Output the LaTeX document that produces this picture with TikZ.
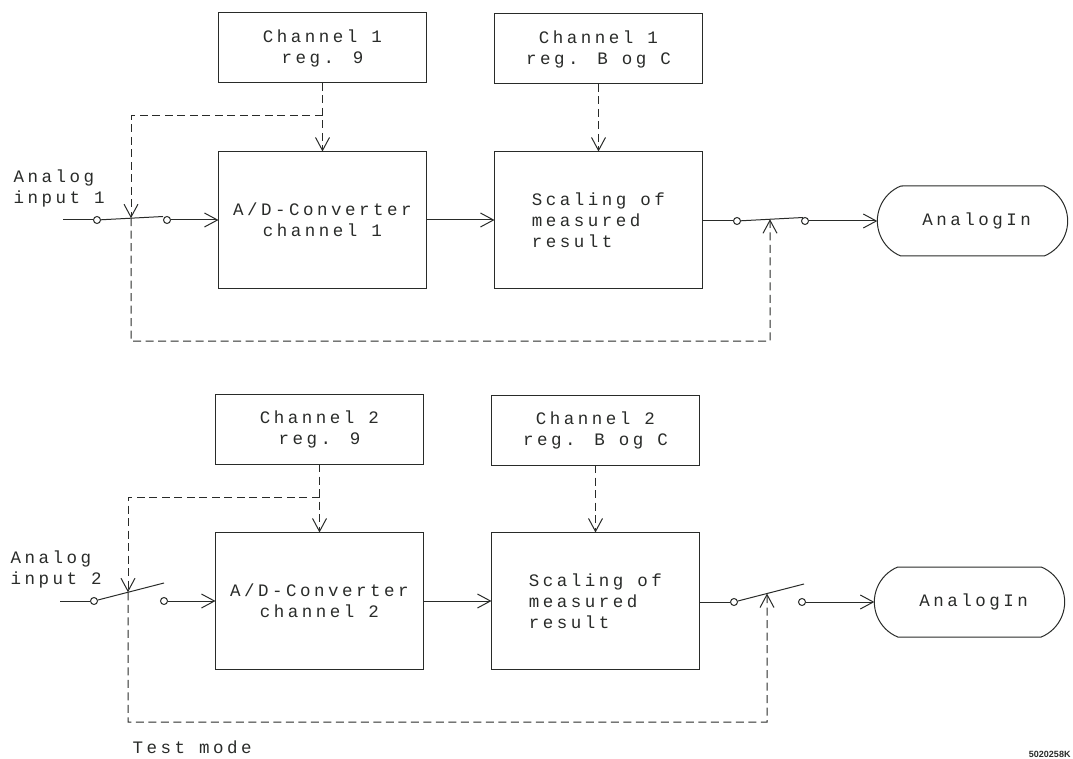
\documentclass[tikz,border=0pt]{standalone}
\usepackage{fontspec}
\newfontfamily\plotter[LetterSpace=20]{Liberation Mono}
\newfontfamily\stampfont{Liberation Sans}
\usetikzlibrary{arrows.meta,calc,positioning,shapes.misc}
\definecolor{plotink}{rgb}{0.16,0.17,0.16}

\begin{document}
\begin{tikzpicture}[x=1pt, y=-1pt, color=plotink, line width=1pt,
    >={Straight Barb[length=13pt,width=14pt]},
    every node/.style={font=\plotter\fontsize{17.5}{21}\selectfont},
    regbox/.style={draw, minimum width=208pt, minimum height=70pt, outer sep=0pt, align=center},
    mainbox/.style={draw, minimum width=208pt, minimum height=137pt, outer sep=0pt, align=center},
    outbox/.style={draw, rounded rectangle, rounded rectangle arc length=135, minimum width=197pt, minimum height=70pt, outer sep=0pt},
    inlabel/.style={anchor=west, align=left, inner sep=0pt},
    contact/.style={circle, draw, fill=white, inner sep=0pt, minimum size=7pt, line width=1pt},
    ctrl/.style={dash pattern=on 8pt off 4.5pt, line width=1pt}]
  \useasboundingbox (0,0) rectangle (1073,759);

  \foreach \ch/\dx/\dy/\rise/\reach in {1/0/0/3.5/66, 2/-3/381/18/70} {
    \begin{scope}[shift={(\dx,\dy)}]
      % boxes
      \node[regbox] (reg\ch) at (322.5,48) {Channel \ch\\reg. 9};
      \node[regbox] (bc\ch) at (598.5,49) {Channel \ch\\reg. B og C};
      \node[mainbox] (ad\ch) at (322.5,220) {A/D-Converter\\channel \ch};
      \node[mainbox, align=left] (scale\ch) at (598.5,220) {Scaling of\\measured\\result};
      \node[outbox] (out\ch) at (972.5,221) {\hspace*{8pt}AnalogIn};
      \node[inlabel] (in\ch) at (13,188) {Analog\\input \ch};

      % input switch
      \coordinate (src\ch) at (63,220);
      \node[contact] (ia\ch) at (97,220) {};
      \node[contact] (ib\ch) at (167,220) {};
      \draw (src\ch) -- (ia\ch);
      \draw (ia\ch) -- ++(\reach,-\rise) coordinate (il\ch);
      \draw[->] (ib\ch) -- (ad\ch);
      \draw[->] (ad\ch) -- (scale\ch);

      % output switch
      \node[contact] (oa\ch) at (737,221) {};
      \node[contact] (ob\ch) at (805,221) {};
      \draw (scale\ch.east |- oa\ch) -- (oa\ch);
      \draw (oa\ch) -- ++(\reach,-\rise) coordinate (ol\ch);
      \draw[->] (ob\ch) -- (out\ch);

      % register control and test mode
      \coordinate (br\ch) at (322.5,116);
      \coordinate (tm\ch) at (131,341);
      \coordinate (tl\ch) at ($(ia\ch)!{34/\reach}!(il\ch)$);
      \coordinate (tr\ch) at ($(oa\ch)!{33/\reach}!(ol\ch)$);
      \draw[ctrl,->] (reg\ch) -- (ad\ch);
      \draw[ctrl,->] (bc\ch) -- (scale\ch);
      \draw[ctrl,->] (br\ch) -| (tl\ch);
      \draw[ctrl,->] (tl\ch) -- (tm\ch) -| (tr\ch);
    \end{scope}
  }

  \node[anchor=base west, inner sep=0pt] (test) at (132,753) {Test mode};
  \node[anchor=base east, inner sep=0pt, font=\stampfont\bfseries\fontsize{9}{9}\selectfont] (stamp) at (1071,757) {5020258K};
\end{tikzpicture}
\end{document}
